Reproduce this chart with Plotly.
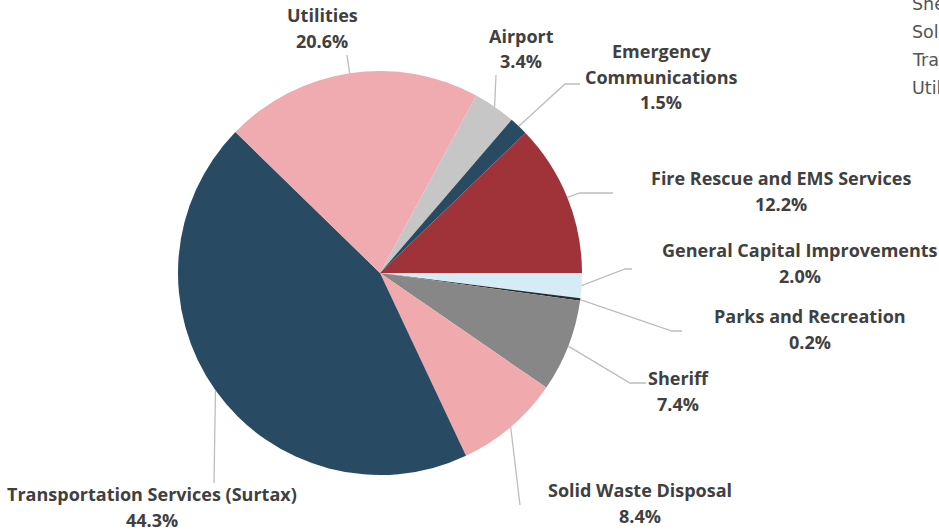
import math
import plotly.graph_objects as go

# Capital budget share by department
departments = [
    "General Capital Improvements",
    "Parks and Recreation",
    "Sheriff",
    "Solid Waste Disposal",
    "Transportation Services (Surtax)",
    "Utilities",
    "Airport",
    "Emergency Communications",
    "Fire Rescue and EMS Services",
]
shares = [2.0, 0.2, 7.4, 8.4, 44.3, 20.6, 3.4, 1.5, 12.2]
colors = ["#D5ECF7", "#2B2B2B", "#878787", "#F0AAAE", "#284B63",
          "#EFABAF", "#C6C6C6", "#284B63", "#A0323A"]

# Label text lines (department name split as shown)
label_lines = {
    "Emergency Communications": ["Emergency", "Communications"],
}
legend_items = ["Sheriff", "Solid Waste Disposal",
                "Transportation Services (Surtax)", "Utilities"]

W, H = 939, 531
CX, CY, R = 380, 273, 202

# label placement (pixel center of first line) and leader path toward label
label_pos = {
    "General Capital Improvements": (800, 250, [(625, 269), (632, 269)]),
    "Parks and Recreation": (810, 316, [(672, 331), (682, 331)]),
    "Sheriff": (678, 378, [(630, 383), (646, 383)]),
    "Solid Waste Disposal": (640, 490, [(520, 505)]),
    "Transportation Services (Surtax)": (152, 494, [(214, 483)]),
    "Utilities": (322, 15, [(347, 55)]),
    "Airport": (521, 36, [(496, 75)]),
    "Emergency Communications": (661, 51, [(565, 84), (580, 84)]),
    "Fire Rescue and EMS Services": (781, 178, [(580, 193), (613, 193)]),
}


def px(x):
    return x / W


def py(y):
    return 1 - y / H


fig = go.Figure(go.Pie(
    labels=departments,
    values=shares,
    sort=False,
    direction="clockwise",
    rotation=90,
    marker=dict(colors=colors, line=dict(width=0)),
    textinfo="none",
    hoverinfo="label+percent",
    showlegend=False,
    domain=dict(x=[px(CX - R), px(CX + R)], y=[py(CY + R), py(CY - R)]),
))

annotations = []
shapes = []
label_font = dict(family="Open Sans, Arial, sans-serif", size=18,
                  color="#404040", weight=700)
cum = 0.0
total = sum(shares)
for name, val in zip(departments, shares):
    mid = (cum + val / 2) / total * 2 * math.pi  # clockwise from 3 o'clock
    cum += val
    ex = CX + R * math.cos(mid)
    ey = CY + R * math.sin(mid)
    lx, ly, path = label_pos[name]
    lines = label_lines.get(name, [name]) + [f"{val:.1f}%"]
    for i, t in enumerate(lines):
        annotations.append(dict(
            x=px(lx), y=py(ly + i * 25.5), xref="paper", yref="paper",
            text=t, showarrow=False, font=label_font,
            xanchor="center", yanchor="middle"))
    pts = [(ex, ey)] + path
    d = "M " + " L ".join(f"{px(x)},{py(y)}" for x, y in pts)
    shapes.append(dict(type="path", path=d, xref="paper", yref="paper",
                       line=dict(color="#BDBDBD", width=1.3)))

# legend entries running off the right edge
for i, t in enumerate(legend_items):
    annotations.append(dict(
        x=px(910), y=py(4 + i * 28), xref="paper", yref="paper",
        text=t, showarrow=False, xanchor="left", yanchor="middle",
        font=dict(family="DejaVu Sans, sans-serif", size=17.5, color="#555555")))

fig.update_layout(
    width=W, height=H,
    margin=dict(l=0, r=0, t=0, b=0),
    paper_bgcolor="white",
    plot_bgcolor="white",
    annotations=annotations,
    shapes=shapes,
)

fig.write_html("out.html")
